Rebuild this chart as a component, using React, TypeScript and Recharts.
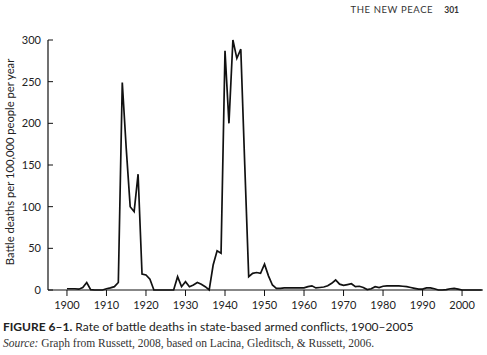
import React from 'react';
import { LineChart, Line, XAxis, YAxis } from 'recharts';

// annual rate of battle deaths per 100,000 people, 1900-2005
const years = [
  1900, 1901, 1902, 1903, 1904, 1905, 1906, 1907, 1908, 1909,
  1910, 1911, 1912, 1913, 1914, 1915, 1916, 1917, 1918, 1919,
  1920, 1921, 1922, 1923, 1924, 1925, 1926, 1927, 1928, 1929,
  1930, 1931, 1932, 1933, 1934, 1935, 1936, 1937, 1938, 1939,
  1940, 1941, 1942, 1943, 1944, 1945, 1946, 1947, 1948, 1949,
  1950, 1951, 1952, 1953, 1954, 1955, 1956, 1957, 1958, 1959,
  1960, 1961, 1962, 1963, 1964, 1965, 1966, 1967, 1968, 1969,
  1970, 1971, 1972, 1973, 1974, 1975, 1976, 1977, 1978, 1979,
  1980, 1981, 1982, 1983, 1984, 1985, 1986, 1987, 1988, 1989,
  1990, 1991, 1992, 1993, 1994, 1995, 1996, 1997, 1998, 1999,
  2000, 2001, 2002, 2003, 2004, 2005,
];

const deaths = [
  1.5, 1.5, 1.5, 1, 3, 9, 0.5, 0, 0, 0,
  1.5, 2.5, 4, 9, 249, 170, 100, 94, 139, 19,
  18, 13, 0, 0, 0, 0, 0, 0, 16, 4,
  10, 4, 6, 9, 7, 4, 0, 30, 47, 44,
  287, 200, 300, 278, 289, 150, 16, 20, 21, 20,
  31, 17, 6, 2, 2, 2.5, 2.5, 2.5, 2.5, 2.5,
  2.5, 4, 5, 2.5, 3, 3.6, 5, 8, 12, 7,
  5.5, 6.5, 7.5, 4, 4.5, 3, 0.5, 1.5, 4, 3,
  4.5, 5, 5, 5, 5, 4.5, 4, 3, 2, 1,
  1, 2.5, 2.5, 1.5, 0, 0, 0.5, 1.5, 2, 1,
  0, 0, 0, 0, 0, 0,
];

const xTicks = [1900, 1910, 1920, 1930, 1940, 1950, 1960, 1970, 1980, 1990, 2000];
const yTicks = [0, 50, 100, 150, 200, 250, 300];

const data = years.map((year, i) => ({ year, deaths: deaths[i] }));

const sans = 'Lato, "Open Sans", sans-serif';
const tickStyle = { fill: '#222', fontSize: 11, fontFamily: sans };

export default function App() {
  return (
    <div style={{ position: 'absolute', left: 0, top: 0, width: 487, height: 355, background: '#fff', overflow: 'hidden' }}>
      <div style={{ position: 'absolute', top: 4, right: 28, fontFamily: sans, fontSize: 9.5, letterSpacing: 0.6, color: '#333', whiteSpace: 'nowrap' }}>
        THE NEW PEACE<span style={{ marginLeft: 11, fontSize: 8.5, fontWeight: 700, letterSpacing: 0 }}>301</span>
      </div>

      <LineChart width={487} height={355} data={data} margin={{ top: 40, right: 4, left: 0, bottom: 35 }}>
        <XAxis
          dataKey="year"
          type="number"
          domain={[1895.2, 2005.3]}
          ticks={xTicks}
          interval={0}
          tickSize={6}
          tickMargin={5}
          height={30}
          axisLine={{ stroke: '#111', strokeWidth: 1.2 }}
          tickLine={{ stroke: '#111', strokeWidth: 1 }}
          tick={tickStyle}
        />
        <YAxis
          type="number"
          domain={[0, 300]}
          ticks={yTicks}
          interval={0}
          width={48}
          tickSize={-5}
          tickMargin={12}
          axisLine={{ stroke: '#111', strokeWidth: 1.2 }}
          tickLine={{ stroke: '#111', strokeWidth: 1 }}
          tick={tickStyle}
        />
        <Line
          type="linear"
          dataKey="deaths"
          stroke="#111"
          strokeWidth={1.7}
          dot={false}
          isAnimationActive={false}
        />
      </LineChart>

      <div style={{ position: 'absolute', left: -120, top: 155, width: 260, height: 14, lineHeight: '14px', textAlign: 'center', transform: 'rotate(-90deg)', fontFamily: sans, fontSize: 11.2, color: '#222', whiteSpace: 'nowrap' }}>
        Battle deaths per 100,000 people per year
      </div>

      <div style={{ position: 'absolute', left: 3, top: 319, fontFamily: sans, fontSize: 12, color: '#222', whiteSpace: 'nowrap' }}>
        <b>FIGURE 6–1.</b> Rate of battle deaths in state-based armed conflicts, 1900–2005
      </div>
      <div style={{ position: 'absolute', left: 3, top: 337, fontFamily: '"Liberation Serif", "DejaVu Serif", serif', fontSize: 11.5, color: '#333', whiteSpace: 'nowrap' }}>
        <i>Source:</i> Graph from Russett, 2008, based on Lacina, Gleditsch, &amp; Russett, 2006.
      </div>
    </div>
  );
}
